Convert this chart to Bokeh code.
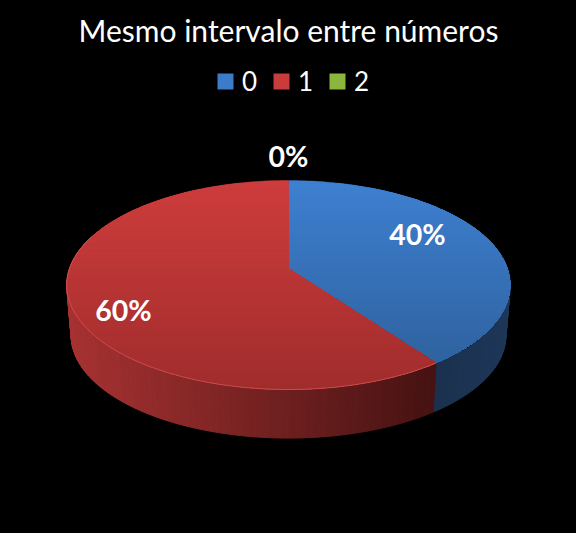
import math
from bokeh.plotting import figure
from bokeh.models import Legend, LegendItem, Range1d
from bokeh.embed import file_html
from bokeh.resources import INLINE
from bokeh.core.properties import value

TITLE = "Mesmo intervalo entre números"
categories = ["0", "1", "2"]
shares = [40, 60, 0]
percent_labels = ["40%", "60%", "0%"]
legend_colors = ["#3a7cc8", "#c83c3c", "#8db43c"]

# pie colours by category: top face (back -> front), wall (left -> right on screen)
top_back = {"0": (62, 127, 208), "1": (206, 60, 60)}
top_front = {"0": (44, 94, 152), "1": (160, 44, 44)}
wall_left = {"0": (27, 48, 78), "1": (168, 50, 50)}
wall_right = {"0": (30, 56, 90), "1": (70, 18, 18)}
label_x = [417, 123, 288]
label_y = [233, 309, 155]

CX, CY, R, S, K = 288.0, 268.0, 219.0, 101.9, 0.158
DEPTH, SHRINK = 51.0, 0.98


def project(theta, scale=1.0, drop=0.0):
    u, v = math.sin(theta), -math.cos(theta)
    w = 1 - K * v
    return CX + scale * R * u / w, CY + drop + scale * S * v / w


def clip_below(poly, c):
    out = []
    for i, (x0, y0) in enumerate(poly):
        x1, y1 = poly[(i + 1) % len(poly)]
        if y0 >= c:
            out.append((x0, y0))
        if (y0 >= c) != (y1 >= c):
            t = (c - y0) / (y1 - y0)
            out.append((x0 + t * (x1 - x0), c))
    return out


def mix(a, b, t):
    t = max(0.0, min(1.0, t))
    return "#%02x%02x%02x" % tuple(int(round(a[i] + (b[i] - a[i]) * t)) for i in range(3))


p = figure(width=576, height=533, output_backend="svg", toolbar_location=None,
           x_range=Range1d(0, 576), y_range=Range1d(533, 0), min_border=0,
           background_fill_color="black", border_fill_color="black", outline_line_color=None)
p.axis.visible = False
p.grid.visible = False

# walls first
start = 0.0
spans = []
for cat, share in zip(categories, shares):
    end = start + 2 * math.pi * share / 100
    spans.append((cat, start, end))
    start = end

for cat, a, b in spans:
    if b <= a:
        continue
    n = max(2, int((b - a) * 40))
    for i in range(n):
        t0 = a + (b - a) * i / n
        t1 = a + (b - a) * (i + 1) / n
        p0, p1 = project(t0), project(t1)
        q0, q1 = project(t0, SHRINK, DEPTH), project(t1, SHRINK, DEPTH)
        mid = (p0[0] + p1[0]) / 2
        xs = [p0[0], p1[0], q1[0], q0[0]]
        ys = [p0[1], p1[1], q1[1], q0[1]]
        lo, hi = (66, 435) if cat == "1" else (435, 511)
        col = mix(wall_left[cat], wall_right[cat], (mid - lo) / (hi - lo))
        p.patch(xs, ys, fill_color=col, line_color=col, line_width=1)

# top faces, painted as overlapping bands from back to front
for cat, a, b in spans:
    if b <= a:
        continue
    n = 120
    poly = [(CX, CY)] + [project(a + (b - a) * i / n) for i in range(n + 1)]
    for i in range(45):
        c = 178 + i * 4.8
        band = clip_below(poly, c)
        if len(band) < 3:
            continue
        col = mix(top_back[cat], top_front[cat], (c - 180) / 209)
        p.patch([q[0] for q in band], [q[1] for q in band], fill_color=col, line_color=None)

# light rim along the front edge of the red slice
cat, a, b = spans[1]
rim = [project(a + (b - a) * i / 100) for i in range(101) if a + (b - a) * i / 100 < math.radians(290)]
p.line([q[0] for q in rim], [q[1] for q in rim], line_color="#d85a5a", line_width=1, line_alpha=0.7)

# labels
p.text(label_x, label_y, text=percent_labels, text_color="white", text_align="center",
       text_baseline="middle", text_font=value("Lato"), text_font_style="bold", text_font_size="28.5px")
p.text([288], [29], text=[TITLE], text_color="white", text_align="center", text_baseline="middle",
       text_font=value("Lato"), text_font_size="30px")

# legend
items = []
for cat, col in zip(categories, legend_colors):
    r = p.quad(left=[float("nan")], right=[float("nan")], top=[float("nan")], bottom=[float("nan")],
               fill_color=col, line_color=None)
    items.append(LegendItem(label=cat, renderers=[r]))
legend = Legend(items=items, orientation="horizontal", location=(215, 436), background_fill_alpha=0,
                border_line_color=None, margin=0, padding=0, glyph_width=20, glyph_height=20,
                label_standoff=7, spacing=9, label_text_color="white", label_text_font="Lato",
                label_text_font_size="26px", label_height=20)
p.add_layout(legend, "center")

html = file_html(p, INLINE).replace("</head>", "<style>html,body{background:#000;overflow:hidden}</style></head>")
open("out.html", "w").write(html)
